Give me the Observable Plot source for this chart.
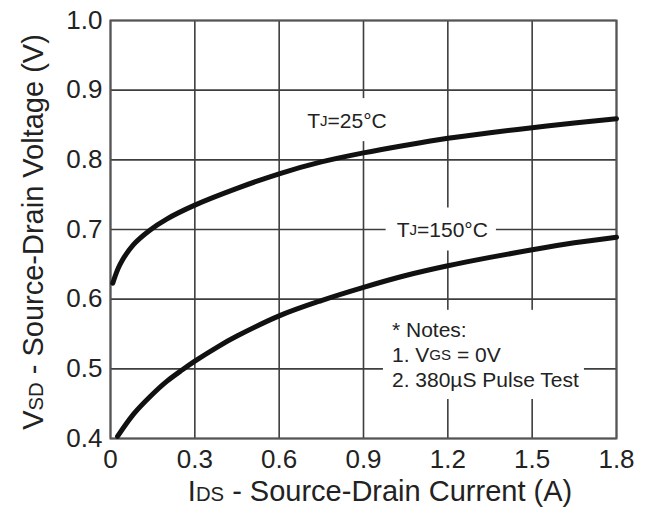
<!DOCTYPE html>
<html><head><meta charset="utf-8">
<script src="https://cdn.jsdelivr.net/npm/d3@7"></script>
<script src="https://cdn.jsdelivr.net/npm/@observablehq/plot@0.6"></script>
<style>body{margin:0;background:#fff;} svg{display:block;}</style>
</head><body><div id="chart"></div>
<script>
// ---- data ----
const xTicks = [0, 0.3, 0.6, 0.9, 1.2, 1.5, 1.8];
const yTicks = [0.4, 0.5, 0.6, 0.7, 0.8, 0.9, 1.0];
const xTickLabels = ["0", "0.3", "0.6", "0.9", "1.2", "1.5", "1.8"];
const yTickLabels = ["0.4", "0.5", "0.6", "0.7", "0.8", "0.9", "1.0"];

const current25 = [0.008, 0.034, 0.081, 0.14, 0.2, 0.3, 0.45, 0.6, 0.75, 0.9, 1.05, 1.2, 1.35, 1.5, 1.65, 1.8];
const voltage25 = [0.623, 0.650, 0.678, 0.699, 0.715, 0.735, 0.759, 0.780, 0.797, 0.810, 0.821, 0.831, 0.839, 0.846, 0.853, 0.859];

const current150 = [0.025, 0.082, 0.143, 0.2, 0.257, 0.3, 0.383, 0.45, 0.6, 0.75, 0.9, 1.05, 1.2, 1.35, 1.5, 1.65, 1.8];
const voltage150 = [0.403, 0.435, 0.461, 0.482, 0.499, 0.511, 0.532, 0.547, 0.576, 0.598, 0.617, 0.634, 0.648, 0.660, 0.671, 0.681, 0.689];

// labels: [text, isSmall] parts
const seriesLabels = [
  {parts: [["T", false], ["J", true], ["=25°C", false]], x: 0.843, y: 0.857},
  {parts: [["T", false], ["J", true], ["=150°C", false]], x: 1.182, y: 0.700}
];
const noteLines = [
  [["* Notes:", false]],
  [["1. V", false], ["GS", true], [" = 0V", false]],
  [["2. 380µS Pulse Test", false]]
];
const noteX = 1.003;
const noteY = [0.556, 0.520, 0.484];

const xTitle = [["I", false], ["DS", true], [" - Source-Drain Current (A)", false]];
const yTitle = [["V", false], ["SD", true], [" - Source-Drain Voltage (V)", false]];

// ---- build ----
const rows25 = current25.map((c, i) => ({c, v: voltage25[i]}));
const rows150 = current150.map((c, i) => ({c, v: voltage150[i]}));

const FONT = "'Liberation Sans', Arial, Helvetica, sans-serif";
const gridColor = "#3e3e3e";

const plot = Plot.plot({
  width: 647,
  height: 513,
  marginLeft: 110,
  marginRight: 31,
  marginTop: 20,
  marginBottom: 75,
  style: {fontFamily: FONT, fontSize: "26px", color: "#222", background: "#fff"},
  x: {domain: [0, 1.8]},
  y: {domain: [0.4, 1.0]},
  marks: [
    Plot.gridX(xTicks, {stroke: gridColor, strokeOpacity: 1, strokeWidth: 1.6}),
    Plot.gridY(yTicks, {stroke: gridColor, strokeOpacity: 1, strokeWidth: 1.6}),
    Plot.frame({stroke: "#555", strokeWidth: 2}),
    Plot.axisX(xTicks, {tickSize: 0, tickPadding: 11, tickFormat: d => xTickLabels[xTicks.indexOf(d)], label: null, fill: "#222"}),
    Plot.axisY(yTicks, {tickSize: 0, tickPadding: 8, tickFormat: d => yTickLabels[yTicks.indexOf(d)], label: null, fill: "#222"}),
    Plot.line(rows25, {x: "c", y: "v", stroke: "#111", strokeWidth: 5, curve: "catmull-rom"}),
    Plot.line(rows150, {x: "c", y: "v", stroke: "#111", strokeWidth: 5, curve: "catmull-rom"})
  ]
});
document.getElementById("chart").appendChild(plot);

const sx = plot.scale("x"), sy = plot.scale("y");
const svg = d3.select(plot);

function rich(g, parts, size, small) {
  const t = g.append("text")
    .attr("font-family", FONT)
    .attr("font-size", size)
    .attr("fill", "#222");
  parts.forEach(([s, isSmall]) => {
    t.append("tspan").attr("font-size", isSmall ? size * small : size).text(s);
  });
  return t;
}

function addBg(g, pad) {
  const bb = g.node().getBBox();
  g.insert("rect", ":first-child")
    .attr("x", bb.x - pad[0]).attr("y", bb.y - pad[1])
    .attr("width", bb.width + pad[0] + pad[2]).attr("height", bb.height + 2 * pad[1])
    .attr("fill", "#fff");
}

// series labels
seriesLabels.forEach(l => {
  const g = svg.append("g");
  rich(g, l.parts, 21, 0.72)
    .attr("x", sx.apply(l.x)).attr("y", sy.apply(l.y))
    .attr("text-anchor", "middle").attr("dominant-baseline", "central");
  addBg(g, [11, 10, 8]);
});

// notes
const ng = svg.append("g");
noteLines.forEach((ln, i) => {
  rich(ng, ln, 21, 0.72)
    .attr("x", sx.apply(noteX)).attr("y", sy.apply(noteY[i]))
    .attr("text-anchor", "start")
    .attr("dominant-baseline", "central");
});
addBg(ng, [9, 8, 5]);

// axis titles
const xg = svg.append("g");
rich(xg, xTitle, 29, 0.7)
  .attr("x", 380).attr("y", 501).attr("text-anchor", "middle");

const yg = svg.append("g").attr("transform", "translate(43,232) rotate(-90)");
rich(yg, yTitle, 29, 0.7)
  .attr("x", 0).attr("y", 0).attr("text-anchor", "middle");
</script>
</body></html>
